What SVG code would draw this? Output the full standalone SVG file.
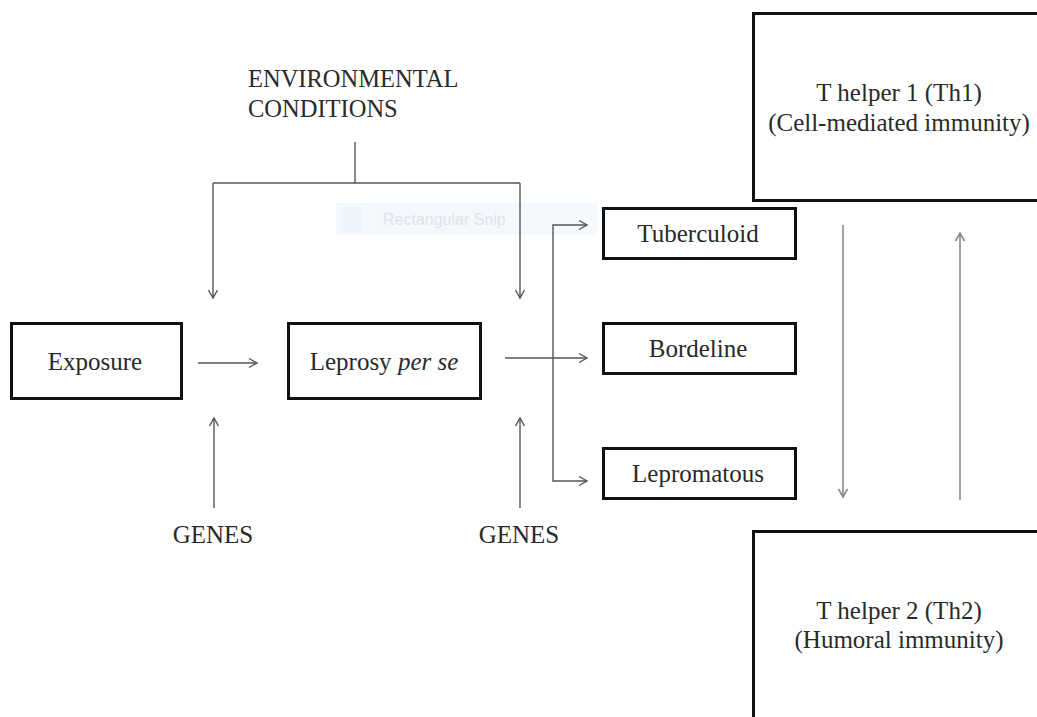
<svg xmlns="http://www.w3.org/2000/svg" width="1037" height="717" viewBox="0 0 1037 717">
<style>
.box{fill:#fff;stroke:#111;stroke-width:3}
.t{font-family:"Liberation Serif","Times New Roman",serif;font-size:25px;fill:#2a2a2a;text-anchor:middle}
.tl{font-family:"Liberation Serif","Times New Roman",serif;font-size:24.5px;fill:#2a2a2a}
.c{fill:none;stroke:#555;stroke-width:1.4}
.g{fill:none;stroke:#8a8a8a;stroke-width:1.6}
</style>
<defs>
<marker id="ah" markerWidth="12" markerHeight="12" refX="10" refY="6" orient="auto" markerUnits="userSpaceOnUse">
<path d="M2,1.5 L10,6 L2,10.5" fill="none" stroke="#555" stroke-width="1.4"/>
</marker>
<marker id="ahg" markerWidth="12" markerHeight="12" refX="10" refY="6" orient="auto" markerUnits="userSpaceOnUse">
<path d="M2,1.5 L10,6 L2,10.5" fill="none" stroke="#8a8a8a" stroke-width="1.6"/>
</marker>
</defs>
<rect width="1037" height="717" fill="#fff"/>
<g id="snip" opacity="0.6">
<rect x="336" y="203" width="262" height="32" fill="#eef4fb"/>
<rect x="340" y="207" width="22" height="24" fill="#e3edf9"/>
<text x="383" y="225" style="font-family:'Liberation Sans',Arial,sans-serif;font-size:16px;fill:#c9d1dc">Rectangular Snip</text>
</g>
<g id="connectors">
<path class="c" d="M355,142 V183"/>
<path class="c" d="M213,183 H520"/>
<path class="c" d="M213,183 V298" marker-end="url(#ah)"/>
<path class="c" d="M520,183 V298" marker-end="url(#ah)"/>
<path class="c" d="M198,363 H257" marker-end="url(#ah)"/>
<path class="c" d="M505,358 H587" marker-end="url(#ah)"/>
<path class="c" d="M553,358 V225 H587" marker-end="url(#ah)"/>
<path class="c" d="M553,358 V481 H587" marker-end="url(#ah)"/>
<path class="c" d="M214,508 V418" marker-end="url(#ah)"/>
<path class="c" d="M520,508 V418" marker-end="url(#ah)"/>
<path class="g" d="M843,225 V497" marker-end="url(#ahg)"/>
<path class="g" d="M960,500 V233" marker-end="url(#ahg)"/>
</g>
<g id="env">
<text class="tl" x="248" y="87">ENVIRONMENTAL</text>
<text class="tl" x="248" y="117">CONDITIONS</text>
</g>
<g id="genes1"><text class="t" x="213" y="543">GENES</text></g>
<g id="genes2"><text class="t" x="519" y="543">GENES</text></g>
<g id="exposure">
<rect class="box" x="11.5" y="323.5" width="170" height="75"/>
<text class="t" x="95" y="370">Exposure</text>
</g>
<g id="leprosy">
<rect class="box" x="288.5" y="323.5" width="192" height="75"/>
<text class="t" x="384" y="370">Leprosy <tspan font-style="italic">per se</tspan></text>
</g>
<g id="tuberculoid">
<rect class="box" x="603.5" y="208.5" width="192" height="50"/>
<text class="t" x="698" y="242">Tuberculoid</text>
</g>
<g id="bordeline">
<rect class="box" x="603.5" y="323.5" width="192" height="50"/>
<text class="t" x="698" y="357">Bordeline</text>
</g>
<g id="lepromatous">
<rect class="box" x="603.5" y="448.5" width="192" height="50"/>
<text class="t" x="698" y="482">Lepromatous</text>
</g>
<g id="th1">
<rect class="box" x="753.5" y="13.5" width="300" height="187"/>
<text class="t" x="899" y="101">T helper 1 (Th1)</text>
<text class="t" x="899" y="131">(Cell-mediated immunity)</text>
</g>
<g id="th2">
<rect class="box" x="753.5" y="531.5" width="300" height="200"/>
<text class="t" x="899" y="619">T helper 2 (Th2)</text>
<text class="t" x="899" y="648">(Humoral immunity)</text>
</g>
</svg>
